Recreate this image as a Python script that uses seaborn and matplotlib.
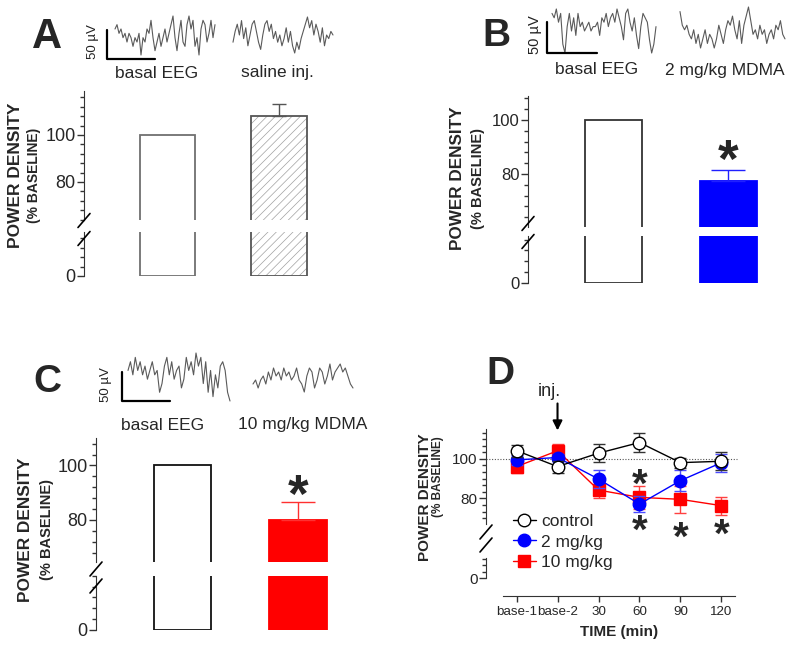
import matplotlib
matplotlib.use("Agg")
import matplotlib.pyplot as plt
import matplotlib.colors as mcolors
from matplotlib.lines import Line2D
from matplotlib.ticker import FixedLocator, MultipleLocator
import numpy as np
import seaborn as sns

W, H = 800, 651

# bar panels A-C (% of baseline power density)
groups_a = ["basal EEG", "saline inj."]
values_a = [100, 108]
sem_a = [0, 5]
groups_b = ["basal EEG", "2 mg/kg MDMA"]
values_b = [100, 77.5]
sem_b = [0, 4]
groups_c = ["basal EEG", "10 mg/kg MDMA"]
values_c = [100, 80]
sem_c = [0, 6.5]

# time course panel D
time_labels = ["base-1", "base-2", "30", "60", "90", "120"]
control_mean = [104.2, 96.1, 102.9, 108.3, 98.1, 98.8]
control_sem = [3.0, 3.0, 4.5, 4.7, 2.6, 4.5]
mdma2_mean = [99.5, 100.7, 89.8, 77.1, 89.0, 98.1]
mdma2_sem = [2.5, 2.0, 4.5, 4.0, 5.5, 4.5]
mdma10_mean = [96.1, 104.1, 84.2, 80.5, 79.5, 76.3]
mdma10_sem = [3.4, 3.5, 4.2, 6.0, 7.0, 4.5]

# EEG sample traces (relative amplitude)
eeg_a_basal = [7, 8, 6, 7, 5, 6, 4, 6, 5, 3, 5, 4, 6, 1, 5, 4, 7, 6, 9, 5, 2, 4, 6, 3, 5,
               7, 4, 6, 8, 10, 5, 2, 6, 9, 4, 3, 8, 10, 7, 9, 3, 5, 1, 7, 9, 8, 4, 6, 9, 5, 8]
eeg_a_saline = [3, 6, 8, 5, 9, 4, 7, 2, 5, 8, 9, 6, 3, 1, 5, 8, 9, 6, 8, 4, 6, 3, 5, 2,
                4, 7, 3, 6, 2, 0, 3, 1, 4, 6, 8, 10, 7, 9, 5, 8, 6, 3, 7, 2, 5, 4, 6, 5]
eeg_b_basal = [9, 8, 10, 7, 9, 2, 0, 6, 9, 5, 8, 4, 9, 6, 7, 5, 6, 7, 5, 6, 6, 7, 4, 8, 7,
               9, 6, 8, 9, 7, 10, 8, 6, 3, 9, 10, 7, 5, 8, 4, 1, 6, 9, 8, 7, 3, 0, 2, 6]
eeg_b_mdma = [9, 6, 5, 6, 4, 3, 5, 2, 4, 1, 3, 5, 2, 4, 3, 1, 3, 6, 4, 2, 5, 7, 6, 8,
              5, 3, 7, 2, 6, 8, 10, 7, 4, 5, 3, 6, 4, 5, 2, 4, 5, 3, 6, 5, 7, 4, 3]
eeg_c_basal = [7, 9, 6, 10, 7, 9, 6, 8, 5, 7, 9, 6, 7, 2, 4, 8, 10, 6, 9, 5, 7, 8,
               3, 5, 10, 7, 9, 6, 11, 8, 10, 4, 9, 2, 7, 1, 6, 3, 8, 9, 7, 2, 0]
eeg_c_mdma = [4, 5, 3, 5, 6, 4, 7, 5, 8, 6, 7, 5, 8, 6, 7, 5, 6, 8, 5, 4, 2, 6, 8, 7,
              3, 5, 8, 7, 4, 6, 9, 5, 7, 8, 9, 7, 8, 6, 4, 3]

sns.set_style("ticks")
plt.rcParams["font.family"] = ["Liberation Sans", "DejaVu Sans"]
plt.rcParams["hatch.linewidth"] = 0.5

fig = plt.figure(figsize=(8, 6.51), dpi=100)
AXIS_GREY = "#333333"


def px_box(x0, y0, x1, y1):
    return [x0 / W, 1 - y1 / H, (x1 - x0) / W, (y1 - y0) / H]


def fig_line(xs, ys, **kw):
    fig.add_artist(Line2D([x / W for x in xs], [1 - y / H for y in ys],
                          transform=fig.transFigure, **kw))


def fig_text(x, y, s, **kw):
    fig.text(x / W, 1 - y / H, s, **kw)


def break_marks(x, centers):
    for c in centers:
        fig_line([x - 6, x + 6], [c + 7, c - 7], color="black", lw=1.2)


def style_axis(ax, size):
    sns.despine(ax=ax, bottom=True)
    ax.set_xticks([])
    ax.set_xlabel("")
    ax.set_ylabel("")
    ax.tick_params(axis="y", which="major", length=5, width=1, pad=1,
                   labelsize=size, color=AXIS_GREY)
    ax.tick_params(axis="y", which="minor", length=3, width=1, color=AXIS_GREY)
    ax.spines["left"].set_color(AXIS_GREY)
    ax.patch.set_alpha(0)


def star(ax, x, y, size):
    ax.annotate("*", xy=(x, y), xytext=(0, -0.57 * size), textcoords="offset points",
                ha="center", va="baseline", fontsize=size, fontweight="bold",
                annotation_clip=False)


def y_labels(x1, x2, y, size1, size2, y2=None):
    fig_text(x1, y, "POWER DENSITY", rotation=90, ha="center", va="center",
             fontsize=size1, fontweight="bold")
    fig_text(x2, y if y2 is None else y2, "(% BASELINE)", rotation=90, ha="center",
             va="center", fontsize=size2, fontweight="bold")


def eeg_trace(values, box):
    ax = fig.add_axes(px_box(*box))
    sns.lineplot(x=np.arange(len(values)), y=values, ax=ax, color="#5a5a5a",
                 linewidth=0.8, clip_on=False)
    ax.set_xlim(0, len(values) - 1)
    ax.set_ylim(min(values), max(values))
    ax.axis("off")


def scale_bar(x, y_top, y_bot, x_end, label_x, label_y, size):
    fig_line([x, x, x_end], [y_top, y_bot, y_bot], color="black", lw=1.6)
    fig_text(label_x, label_y, "50 µV", rotation=90, ha="center", va="center",
             fontsize=size, color="#222222")


def bar_panel(groups, values, sems, fills, edges, err_color, box, split, upper, lower,
              tick_size, capsize, hatch=None, star_gap=None):
    x0, top, x1, bottom = box
    cut_top, cut_bottom = split
    ax_u = fig.add_axes(px_box(x0, top, x1, cut_top))
    ax_l = fig.add_axes(px_box(x0, cut_bottom, x1, bottom))
    for ax in (ax_u, ax_l):
        sns.barplot(x=groups, y=values, hue=groups, palette=fills, width=0.5,
                    saturation=1, legend=False, ax=ax)
        for patch, ec in zip(ax.patches, edges):
            patch.set_edgecolor(ec)
            patch.set_linewidth(1.3)
        if hatch:
            ax.patches[1].set_hatch(hatch)
            ax.patches[1]._hatch_color = mcolors.to_rgba("#a0a0a0")
        ax.set_xlim(-0.75, 1.6)
        style_axis(ax, tick_size)
    ax_u.set_ylim(*upper)
    ax_l.set_ylim(*lower)
    ax_u.yaxis.set_major_locator(FixedLocator([80, 100]))
    ax_u.yaxis.set_minor_locator(MultipleLocator(4))
    ax_l.yaxis.set_major_locator(FixedLocator([0]))
    ax_l.yaxis.set_minor_locator(MultipleLocator(4))
    ax_u.errorbar(1, values[1], yerr=[[0], [sems[1]]], color=err_color, capsize=capsize,
                  lw=1, capthick=1, zorder=3)
    if star_gap is not None:
        star(ax_u, 1, values[1] + sems[1] + star_gap, 38)
    return ax_u, ax_l


# ---- panel A ----
fig_text(47, 37, "A", ha="center", va="center", fontsize=30, fontweight="bold")
scale_bar(107, 30, 59, 155, 93, 42, 9.5)
eeg_trace(eeg_a_basal, (115, 16, 215, 55))
eeg_trace(eeg_a_saline, (233, 17, 333, 53))
fig_text(157, 73, groups_a[0], ha="center", va="center", fontsize=12.5)
fig_text(277, 72, groups_a[1], ha="center", va="center", fontsize=12.5)
bar_panel(groups_a, values_a, sem_a, ["white", "white"], ["#707070", "#555555"], "#555555",
          (84, 91, 346, 276), (220, 232), (63.8, 118.7), (0, 18.7), 13, 5, hatch="////")
break_marks(84, [220.5, 238.5])
y_labels(16, 34, 175, 12.5, 10)

# ---- panel B ----
fig_text(496, 36, "B", ha="center", va="center", fontsize=28, fontweight="bold")
scale_bar(547, 22, 53, 597, 535, 35, 10.5)
eeg_trace(eeg_b_basal, (552, 9, 656, 53))
eeg_trace(eeg_b_mdma, (680, 7, 785, 48))
fig_text(597, 70, groups_b[0], ha="center", va="center", fontsize=12.5)
fig_text(725, 70, groups_b[1], ha="center", va="center", fontsize=12.5)
bar_panel(groups_b, values_b, sem_b, ["white", "#0000ff"], [AXIS_GREY, "#0000ff"], "#2020ff",
          (528, 96, 797, 283), (226.7, 236), (60.5, 108.9), (0, 17.3), 12, 12, star_gap=8.5)
break_marks(528, [223.5, 241.5])
y_labels(457, 478, 178, 12.3, 10.5)

# ---- panel C ----
fig_text(47, 382, "C", ha="center", va="center", fontsize=28, fontweight="bold")
scale_bar(122, 372, 401, 170, 106, 385, 9.5)
eeg_trace(eeg_c_basal, (128, 353, 230, 401))
eeg_trace(eeg_c_mdma, (253, 364, 353, 392))
fig_text(163, 425, groups_c[0], ha="center", va="center", fontsize=12.5)
fig_text(303, 425, groups_c[1], ha="center", va="center", fontsize=12.5)
bar_panel(groups_c, values_c, sem_c, ["white", "#ff0000"], ["#111111", "#ff0000"], "#ff3030",
          (96, 438, 367, 630), (562.3, 575.7), (64.4, 110.1), (0, 20), 13, 12, star_gap=7.5)
break_marks(96, [569, 586])
y_labels(26, 46.5, 530, 12.4, 10.5)

# ---- panel D ----
fig_text(500, 374, "D", ha="center", va="center", fontsize=28, fontweight="bold")
d_up = fig.add_axes(px_box(503, 429.3, 735, 524))
d_lo = fig.add_axes(px_box(503, 557.7, 735, 578.3))
x_idx = np.arange(len(time_labels))
series = [
    ("10 mg/kg", mdma10_mean, mdma10_sem, "#ff0000", "#ff4040", "s", "#ff0000", 3),
    ("2 mg/kg", mdma2_mean, mdma2_sem, "#0000ff", "#4a4aff", "o", "#0000ff", 4),
    ("control", control_mean, control_sem, "black", "#333333", "o", "white", 5),
]
handles = {}
for name, mean, sem, col, ecol, mk, face, z in series:
    d_up.errorbar(x_idx, mean, yerr=sem, fmt="none", ecolor=ecol, capsize=4,
                  elinewidth=1, capthick=1, zorder=z - 1, clip_on=False)
    sns.lineplot(x=x_idx, y=mean, ax=d_up, color=col, linewidth=1, marker=mk,
                 markersize=9 if mk == "o" else 8.5, markerfacecolor=face,
                 markeredgecolor=col, markeredgewidth=1, zorder=z, clip_on=False)
    handles[name] = Line2D([], [], color=col, lw=1, marker=mk,
                           markersize=9 if mk == "o" else 8.5, markerfacecolor=face,
                           markeredgecolor=col)
d_up.axhline(100, xmin=-0.073, xmax=1.01, ls=(0, (1, 1.5)), color="#555555", lw=0.8,
             clip_on=False, zorder=1)

for ax in (d_up, d_lo):
    sns.despine(ax=ax)
    ax.spines["left"].set_position(("outward", 12.2))
    ax.spines["left"].set_color(AXIS_GREY)
    ax.set_xlim(-0.33, 5.33)
    ax.set_ylabel("")
    ax.tick_params(axis="y", which="major", length=5, width=1, pad=1, labelsize=11,
                   color=AXIS_GREY)
    ax.tick_params(axis="y", which="minor", length=3, width=1, color=AXIS_GREY)
    ax.patch.set_alpha(0)
d_up.set_ylim(67, 115)
d_lo.set_ylim(0, 10.5)
d_up.yaxis.set_major_locator(FixedLocator([80, 100]))
d_up.yaxis.set_minor_locator(FixedLocator(np.arange(70, 115, 10 / 3)))
d_lo.yaxis.set_major_locator(FixedLocator([0]))
d_lo.yaxis.set_minor_locator(FixedLocator([10 / 3, 20 / 3, 10]))
d_up.spines["bottom"].set_visible(False)
d_up.set_xticks([])
d_lo.spines["bottom"].set_position(("outward", 13))
d_lo.spines["bottom"].set_color(AXIS_GREY)
d_lo.set_xticks(x_idx)
d_lo.set_xticklabels(time_labels)
d_lo.tick_params(axis="x", length=4, width=1, pad=3, labelsize=9.6, color=AXIS_GREY)
d_lo.set_xlabel("TIME (min)", fontsize=11, fontweight="bold", labelpad=5)
break_marks(486, [532, 545])

for xs, ys in [(3, 92.5), (3, 69), (4, 65.5), (5, 67)]:
    star(d_up, xs, ys, 29)

d_up.annotate("", xy=(1, 113), xytext=(1, 129.5), annotation_clip=False,
              arrowprops=dict(arrowstyle="-|>", color="black", lw=1.5, mutation_scale=14))
d_up.text(0.8, 134, "inj.", ha="center", va="center", fontsize=13, clip_on=False)

fig.legend([handles["control"], handles["2 mg/kg"], handles["10 mg/kg"]],
           ["control", "2 mg/kg", "10 mg/kg"], loc="upper left",
           bbox_to_anchor=(513 / W, 1 - 514 / H), frameon=False, fontsize=12.5,
           handlelength=1.3, handletextpad=0.3, labelspacing=0.3, borderpad=0,
           borderaxespad=0)
y_labels(425, 438, 497, 11, 8.5, y2=477)

fig.savefig("out.png", dpi=100)
